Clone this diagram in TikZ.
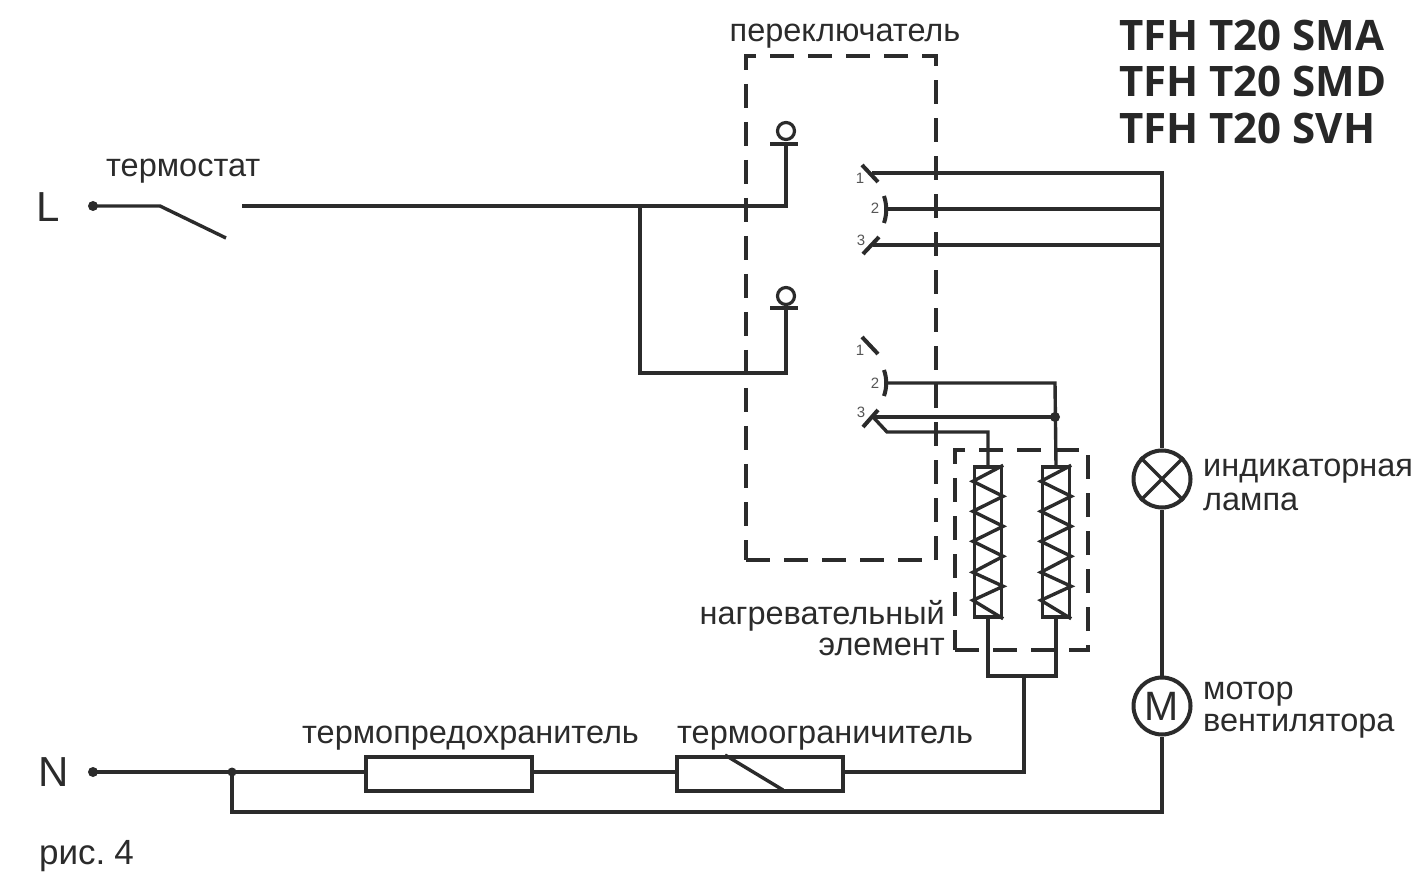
\documentclass[tikz,border=0pt]{standalone}
\usepackage{fontspec}
\setmainfont{Liberation Sans}
\newfontfamily\headfont{Open Sans}
\usetikzlibrary{calc}
\definecolor{ink}{HTML}{2B2B2B}
\tikzset{
  wire/.style={draw=ink,line width=3.4pt,line cap=butt,line join=miter},
  frame/.style={draw=ink,line width=3.4pt,dash pattern=on 24pt off 14pt},
  label/.style={inner sep=0pt,text=ink,font=\fontsize{32.5}{32.5}\selectfont},
  num/.style={inner sep=0pt,text=ink!80,font=\fontsize{15}{15}\selectfont},
  head/.style={inner sep=0pt,text=ink!90!black,font=\headfont\bfseries\fontsize{42}{42}\selectfont},
  terminal/.style={circle,fill=ink,inner sep=0pt,minimum size=10pt},
  box/.style={rectangle,draw=ink,line width=3.4pt,inner sep=0pt,fill=none},
  round part/.style={circle,draw=ink,line width=4pt,inner sep=0pt,fill=white},
  pin/.style={circle,draw=ink,line width=3.2pt,inner sep=0pt,minimum size=17pt},
}
\begin{document}
\begin{tikzpicture}[x=1pt,y=-1pt]
\useasboundingbox (0,0) rectangle (1417,874);
% frames
\node[frame,rectangle,minimum width=190pt,minimum height=504pt,inner sep=0pt] (sw) at (841,308) {};
\node[frame,rectangle,minimum width=133pt,minimum height=200pt,inner sep=0pt] (he) at (1021.5,550) {};
% terminals
\node[terminal] (L) at (93,206) {};
\node[terminal] (N) at (93,772) {};
\node[terminal,minimum size=9pt] (jn) at (232,772) {};
\node[terminal,minimum size=10pt] (jh) at (1055,417) {};
% thermostat
\coordinate (ta) at (160,206);
\coordinate (tb) at (226,238);
\coordinate (tc) at (242,206);
\draw[wire] (L.center) -- (ta) -- (tb);
% pins
\node[pin] (p1) at (786,131) {};
\node[pin] (p2) at (786,296) {};
\coordinate (b1a) at (770,144); \coordinate (b1b) at (798,144);
\coordinate (b2a) at (770,308); \coordinate (b2b) at (798,308);
\coordinate (b1) at (786,144); \coordinate (b2) at (786,308);
\draw[wire] (b1a) -- (b1b);
\draw[wire] (b2a) -- (b2b);
\coordinate (k1) at (786,206);
\coordinate (k2) at (640,206);
\coordinate (k3) at (640,373);
\coordinate (k4) at (786,373);
\draw[wire] (tc) -- (k1) -- (b1);
\draw[wire] (k2) -- (k3) -- (k4) -- (b2);
% switch contacts, upper group
\coordinate (u1a) at (862,165); \coordinate (u1b) at (878,182); \coordinate (u1c) at (872,173);
\coordinate (u2a) at (884,196); \coordinate (u2b) at (884,223); \coordinate (u2c) at (885,209);
\coordinate (u3a) at (863,254); \coordinate (u3b) at (879,237); \coordinate (u3c) at (873,245);
\draw[wire,line width=4pt] (u1a) -- (u1b);
\draw[wire,line width=4pt] (u2a) .. controls (887,205) and (887,214) .. (u2b);
\draw[wire,line width=4pt] (u3a) -- (u3b);
% switch contacts, lower group
\coordinate (d1a) at (862,337); \coordinate (d1b) at (878,354);
\coordinate (d2a) at (884,370); \coordinate (d2b) at (884,396); \coordinate (d2c) at (885,383);
\coordinate (d3a) at (863,427); \coordinate (d3b) at (878,410); \coordinate (d3c) at (873,417);
\draw[wire,line width=4pt] (d1a) -- (d1b);
\draw[wire,line width=4pt] (d2a) .. controls (887,379) and (887,387) .. (d2b);
\draw[wire,line width=4pt] (d3a) -- (d3b);
% contact numbers
\node[num] (n1) at (860,178) {1};
\node[num] (n2) at (875,208) {2};
\node[num] (n3) at (861,240) {3};
\node[num] (n4) at (860,350) {1};
\node[num] (n5) at (875,383) {2};
\node[num] (n6) at (861,412) {3};
% lamp and motor
\node[round part,minimum size=57pt] (lamp) at (1162,479) {};
\draw[wire] (lamp.45) -- (lamp.225);
\draw[wire] (lamp.135) -- (lamp.315);
\node[round part,minimum size=57pt,text=ink,font=\fontsize{41}{41}\selectfont] (motor) at (1162,706) {M};
% right bus
\coordinate (r1) at (1162,173);
\coordinate (r2) at (1162,209);
\coordinate (r3) at (1162,245);
\coordinate (r4) at (1162,812);
\coordinate (r5) at (232,812);
\draw[wire] (u1c) -- (r1) -- (lamp.north);
\draw[wire] (u2c) -- (r2);
\draw[wire] (u3c) -- (r3);
\draw[wire] (lamp.south) -- (motor.north);
\draw[wire] (motor.south) -- (r4) -- (r5) -- (jn.center);
% heater coils
\node[box,minimum width=27pt,minimum height=150pt] (c1) at (988,542) {};
\node[box,minimum width=27pt,minimum height=150pt] (c2) at (1056,542) {};
\foreach \c in {c1,c2}{
  \draw[draw=ink,line width=3.4pt,line join=miter]
    (\c.north east) -- ($(\c.north west)+(0,16)$) -- ($(\c.north east)+(0,31)$)
    -- ($(\c.north west)+(0,46)$) -- ($(\c.north east)+(0,61)$)
    -- ($(\c.north west)+(0,76)$) -- ($(\c.north east)+(0,91)$)
    -- ($(\c.north west)+(0,107)$) -- ($(\c.north east)+(0,121)$)
    -- ($(\c.north west)+(0,135)$) -- (\c.south east);
}
% heater wiring
\coordinate (h1) at (1055,383);
\coordinate (h2) at (887,432);
\coordinate (h3) at (988,432);
\draw[wire] (d2c) -- (h1) -- (c2.north);
\draw[wire] (d3c) -- (jh.center);
\draw[wire] (d3c) -- (h2) -- (h3) -- (c1.north);
\coordinate (h4) at (988,676);
\coordinate (h5) at (1056,676);
\coordinate (h6) at (1024,676);
\coordinate (h7) at (1024,772);
\draw[wire] (c1.south) -- (h4) -- (h5) -- (c2.south);
% fuse and limiter
\node[box,minimum width=166pt,minimum height=34pt] (fu) at (449,774) {};
\node[box,minimum width=166pt,minimum height=34pt] (li) at (760,774) {};
\coordinate (s1) at (725,755);
\coordinate (s2) at (783,790);
\draw[wire] (s1) -- (s2);
\draw[wire] (N.center) -- (fu.west |- N.center);
\draw[wire] (fu.east |- N.center) -- (li.west |- N.center);
\draw[wire] (li.east |- N.center) -- (h7) -- (h6);
% texts
\node[inner sep=0pt,text=ink,anchor=west,font=\fontsize{42}{42}\selectfont] (tL) at (36,207) {L};
\node[inner sep=0pt,text=ink,anchor=west,font=\fontsize{42}{42}\selectfont] (tN) at (38,772) {N};
\node[label,anchor=west] (t1) at (106,171) {термостат};
\node[label] (t2) at (845,36) {переключатель};
\node[head,anchor=west] (h1t) at (1119,35) {TFH T20 SMA};
\node[head,anchor=west] (h2t) at (1119,81) {TFH T20 SMD};
\node[head,anchor=west] (h3t) at (1119,128) {TFH T20 SVH};
\node[label,anchor=west] (t3) at (1203,471) {индикаторная};
\node[label,anchor=west] (t4) at (1203,502) {лампа};
\node[label,anchor=west] (t5) at (1203,694) {мотор};
\node[label,anchor=west] (t6) at (1203,726) {вентилятора};
\node[label,anchor=east] (t7) at (945,616) {нагревательный};
\node[label,anchor=east] (t8) at (945,647) {элемент};
\node[label,anchor=west] (t9) at (302,738) {термопредохранитель};
\node[label,anchor=west] (t10) at (677,738) {термоограничитель};
\node[label,anchor=west,font=\fontsize{35}{35}\selectfont] (t11) at (39,856) {рис.\hspace{9pt}4};
\end{tikzpicture}
\end{document}
